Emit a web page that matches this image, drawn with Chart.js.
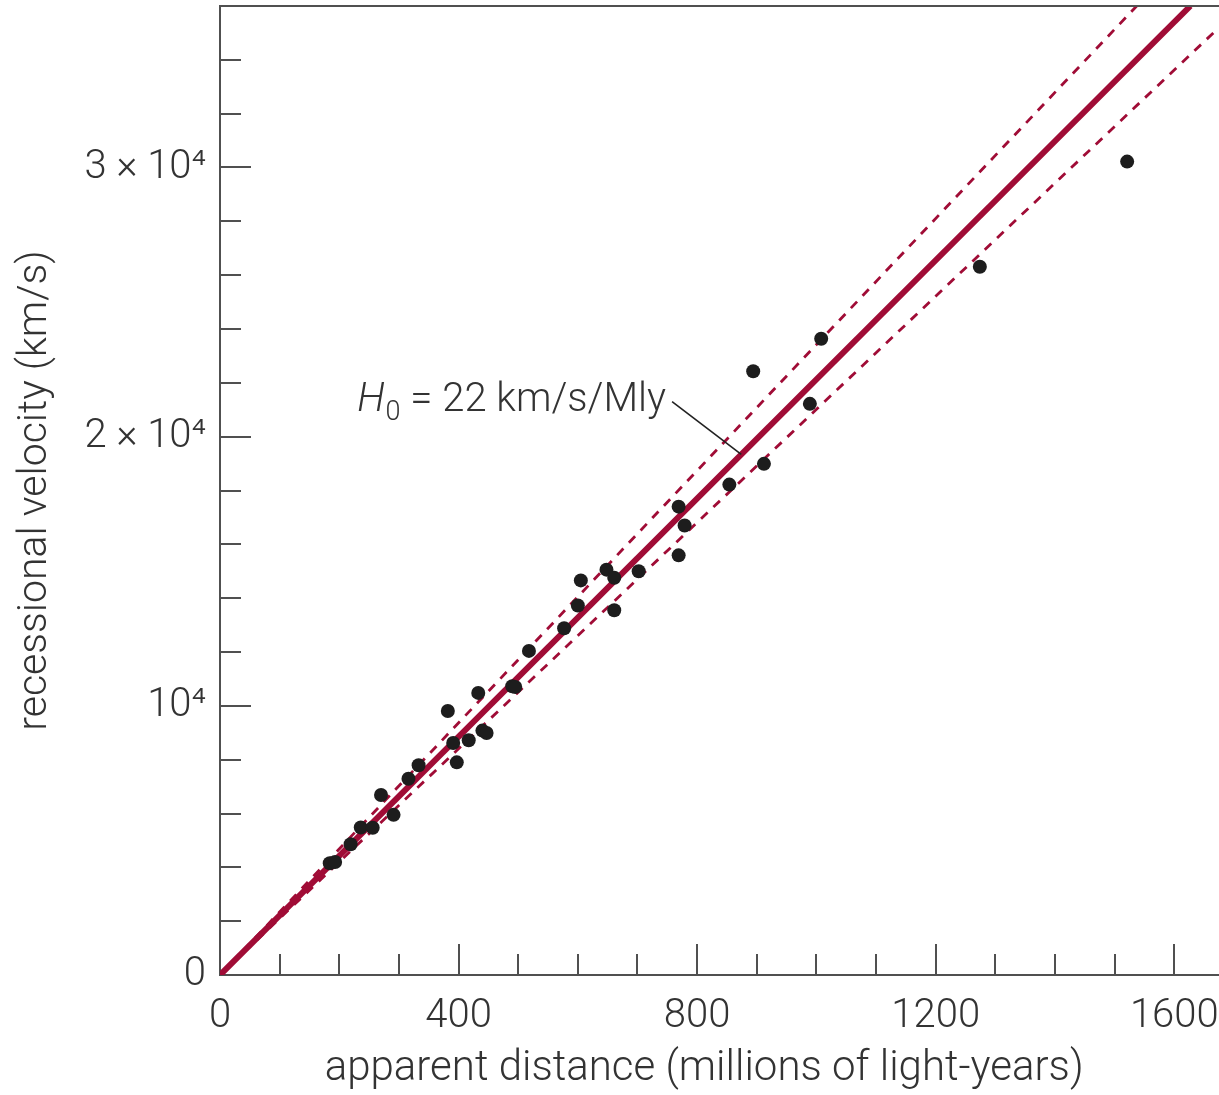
<!DOCTYPE html>
<html>
<head>
<meta charset="utf-8">
<title>Hubble diagram</title>
<script src="https://cdn.jsdelivr.net/npm/chart.js@4.4.1/dist/chart.umd.min.js"></script>
<style>
  html, body { margin: 0; padding: 0; background: #fff; }
  #wrap { width: 1219px; height: 1095px; position: relative; }
</style>
</head>
<body>
<div id="wrap"><canvas id="hubble"></canvas></div>
<script>
// galaxies: apparent distance (Mly) vs recessional velocity (km/s)
const distances = [
  184, 193, 219, 236, 256, 270, 291, 316, 333, 382, 391, 397,
  417, 433, 440, 447, 490, 495, 518, 577, 600, 605, 648, 661,
  661, 702, 769, 779, 769, 854, 894, 912, 989, 1008, 1274, 1521
];
const velocities = [
  4150, 4200, 4860, 5480, 5470, 6690, 5950, 7290, 7790, 9810, 8620, 7900,
  8720, 10480, 9080, 8990, 10730, 10700, 12040, 12880, 13730, 14660, 15060, 14760,
  13550, 15000, 17400, 16700, 15590, 18220, 22430, 18990, 21220, 23640, 26310, 30220
];

// fitted line and its two bounds (end points)
const fitX = [0, 1627];
const fitY = [0, 36000];
const upperX = [0, 1537];
const upperY = [0, 36000];
const lowerX = [0, 1675];
const lowerY = [0, 35200];

// axes
const xMax = 1675;
const yMax = 36000;
const xLabelValues = [0, 400, 800, 1200, 1600];
const yLabelValues = [0, 10000, 20000, 30000];
const yLabelText = ['0', '10\u2074', '2 \u00d7 10\u2074', '3 \u00d7 10\u2074'];

// annotation leader (data coords)
const leaderFrom = [758, 21300];
const leaderTo = [874, 19340];

const RED = '#a00c36';
const AXIS = '#505050';
const TEXT = '#333333';
const FONT = 'Roboto, "Liberation Sans", Arial, sans-serif';

function toPoints(xs, ys) {
  return xs.map((x, i) => ({ x, y: ys[i] }));
}

// keep the plot box where the figure has it
function noOverhang(scale) {
  scale.paddingTop = 0;
  scale.paddingBottom = 0;
  scale.paddingLeft = 0;
  scale.paddingRight = 0;
}

const inwardTicks = {
  id: 'inwardTicks',
  afterDraw(chart) {
    const { ctx, chartArea: a, scales: { x, y } } = chart;
    ctx.save();
    ctx.strokeStyle = AXIS;
    ctx.lineWidth = 2;
    ctx.beginPath();
    // top frame line
    ctx.moveTo(a.left - 1, a.top);
    ctx.lineTo(a.right, a.top);
    x.ticks.forEach(t => {
      if (t.value <= 0 || t.value % 100) return;
      const px = Math.round(x.getPixelForValue(t.value));
      const len = t.value % 400 === 0 ? 31 : 21;
      ctx.moveTo(px, a.bottom);
      ctx.lineTo(px, a.bottom - len);
    });
    y.ticks.forEach(t => {
      if (t.value <= 0 || t.value >= yMax || t.value % 2000) return;
      const py = Math.round(y.getPixelForValue(t.value));
      const len = t.value % 10000 === 0 ? 31 : 21;
      ctx.moveTo(a.left, py);
      ctx.lineTo(a.left + len, py);
    });
    ctx.stroke();
    ctx.restore();
  }
};

const h0Label = {
  id: 'h0Label',
  afterDatasetsDraw(chart) {
    const { ctx, scales: { x, y } } = chart;
    const x1 = x.getPixelForValue(leaderFrom[0]);
    const y1 = y.getPixelForValue(leaderFrom[1]);
    const x2 = x.getPixelForValue(leaderTo[0]);
    const y2 = y.getPixelForValue(leaderTo[1]);
    ctx.save();
    ctx.strokeStyle = '#222';
    ctx.lineWidth = 1.6;
    ctx.beginPath();
    ctx.moveTo(x1, y1);
    ctx.lineTo(x2, y2);
    ctx.stroke();

    const big = '300 40px ' + FONT;
    const bigItalic = 'italic 300 40px ' + FONT;
    const small = '300 27px ' + FONT;
    const rest = ' = 22 km/s/Mly';
    ctx.font = bigItalic; const wH = ctx.measureText('H').width;
    ctx.font = small; const w0 = ctx.measureText('0').width;
    ctx.font = big; const wR = ctx.measureText(rest).width;
    const right = x1 - 6;
    const base = y1 + 9;
    let cx = right - (wH + 1 + w0 + wR);
    ctx.fillStyle = TEXT;
    ctx.textBaseline = 'alphabetic';
    ctx.textAlign = 'left';
    ctx.font = bigItalic; ctx.fillText('H', cx, base); cx += wH + 1;
    ctx.font = small; ctx.fillText('0', cx, base + 9); cx += w0;
    ctx.font = big; ctx.fillText(rest, cx, base);
    ctx.restore();
  }
};

new Chart(document.getElementById('hubble'), {
  type: 'scatter',
  data: {
    datasets: [
      {
        label: 'galaxies',
        data: toPoints(distances, velocities),
        backgroundColor: '#1d1d1d',
        borderColor: '#1d1d1d',
        borderWidth: 0,
        pointRadius: 7,
        pointHoverRadius: 7
      },
      {
        type: 'line',
        label: 'fit',
        data: toPoints(fitX, fitY),
        borderColor: RED,
        borderWidth: 6,
        pointRadius: 0,
        fill: false
      },
      {
        type: 'line',
        label: 'upper',
        data: toPoints(upperX, upperY),
        borderColor: RED,
        borderWidth: 2.8,
        borderDash: [9, 8],
        pointRadius: 0,
        fill: false
      },
      {
        type: 'line',
        label: 'lower',
        data: toPoints(lowerX, lowerY),
        borderColor: RED,
        borderWidth: 2.8,
        borderDash: [9, 8],
        pointRadius: 0,
        fill: false
      }
    ]
  },
  options: {
    responsive: true,
    maintainAspectRatio: false,
    animation: false,
    layout: { autoPadding: false, padding: { top: 6, right: 0, left: 0, bottom: 0 } },
    plugins: {
      legend: { display: false },
      tooltip: { enabled: false }
    },
    scales: {
      x: {
        type: 'linear',
        min: 0,
        max: xMax,
        grid: { display: false },
        border: { display: true, color: AXIS, width: 2 },
        afterFit(scale) { scale.height = 120; noOverhang(scale); },
        ticks: {
          stepSize: 100,
          includeBounds: false,
          autoSkip: false,
          maxRotation: 0,
          padding: 10,
          color: TEXT,
          font: { family: FONT, size: 40, weight: 300 },
          callback: v => xLabelValues.includes(v) ? String(v) : ''
        },
        title: {
          display: true,
          // trailing spaces nudge the centred title left, as in the figure
          text: 'apparent distance (millions of light-years)   ',
          color: TEXT,
          font: { family: FONT, size: 42, weight: 300 },
          padding: { top: 0, bottom: 0 }
        }
      },
      y: {
        type: 'linear',
        min: 0,
        max: yMax,
        grid: { display: false },
        border: { display: true, color: AXIS, width: 2 },
        afterFit(scale) { scale.width = 220; noOverhang(scale); },
        ticks: {
          stepSize: 2000,
          includeBounds: false,
          autoSkip: false,
          padding: 6,
          color: TEXT,
          font: { family: FONT, size: 40, weight: 300 },
          callback: v => {
            const i = yLabelValues.indexOf(v);
            return i >= 0 ? yLabelText[i] : '';
          }
        },
        title: {
          display: true,
          text: 'recessional velocity (km/s)',
          color: TEXT,
          font: { family: FONT, size: 41, weight: 300 },
          padding: { top: 11, bottom: 0 }
        }
      }
    }
  },
  plugins: [inwardTicks, h0Label]
});
</script>
</body>
</html>
